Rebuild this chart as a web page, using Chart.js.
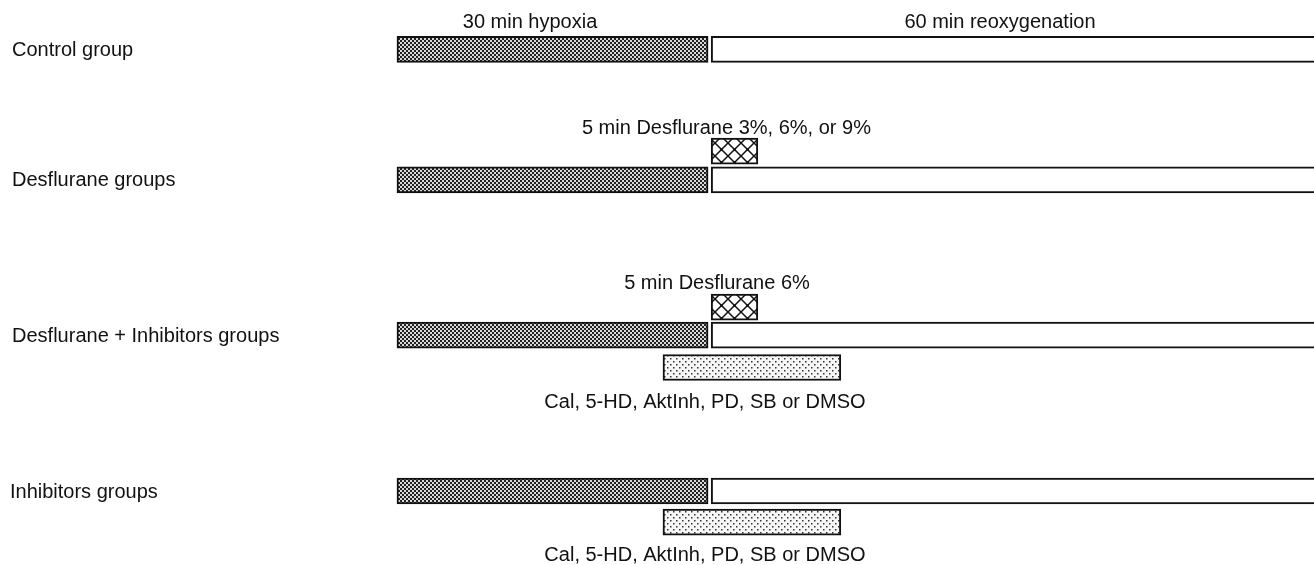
<!DOCTYPE html>
<html>
<head>
<meta charset="utf-8">
<script src="https://cdn.jsdelivr.net/npm/chart.js@4/dist/chart.umd.min.js"></script>
<style>
  html, body { margin: 0; padding: 0; background: #fff; }
  #wrap { width: 1314px; height: 565px; position: relative; }
</style>
</head>
<body>
<div id="wrap"><canvas id="protocol"></canvas></div>
<script>
// time in minutes, lanes run top to bottom
const groupNames = ['Control group', 'Desflurane groups', 'Desflurane + Inhibitors groups', 'Inhibitors groups']
const groupLane = [1.75, 6.37, 11.86, 17.38]
const groupLabelX = [-37.12, -37.12, -37.12, -37.32]

const hypoxia = [0, 30]
const reoxygenation = [30.3, 90]
const desflurane = [30.3, 34.8]
const inhibitors = [25.65, 42.8]

const desfluraneLane = [5.35, 10.87]
const inhibitorLane = [13.01, 18.48]

const noteText = [
  '30 min hypoxia',
  '60 min reoxygenation',
  '5 min Desflurane 3%, 6%, or 9%',
  '5 min Desflurane 6%',
  'Cal, 5-HD, AktInh, PD, SB or DMSO',
  'Cal, 5-HD, AktInh, PD, SB or DMSO'
]
const noteX = [12.83, 58.15, 31.77, 30.86, 29.7, 29.7]
const noteLane = [0.80, 0.80, 4.55, 10.05, 14.25, 19.66]

const FONT = '20px "Liberation Sans", Arial, Helvetica, sans-serif'

function makePattern(size, draw) {
  const c = document.createElement('canvas')
  c.width = size
  c.height = size
  const g = c.getContext('2d')
  draw(g, size)
  return g.createPattern(c, 'repeat')
}

// fine dark checkerboard
const hypoxiaFill = makePattern(4, (g) => {
  g.fillStyle = '#d8d8d8'
  g.fillRect(0, 0, 4, 4)
  g.fillStyle = '#222'
  g.fillRect(0, 0, 2, 2)
  g.fillRect(2, 2, 2, 2)
})

// diagonal cross hatch
const desfluraneFill = makePattern(13, (g, s) => {
  g.fillStyle = '#fff'
  g.fillRect(0, 0, s, s)
  g.strokeStyle = '#111'
  g.lineWidth = 1.5
  g.beginPath()
  g.moveTo(0, 0); g.lineTo(s, s)
  g.moveTo(s, 0); g.lineTo(0, s)
  g.stroke()
  g.fillStyle = '#111'
  g.fillRect(s / 2 - 1.2, s / 2 - 1.2, 2.4, 2.4)
})

// sparse staggered dots
const inhibitorFill = makePattern(6, (g) => {
  g.fillStyle = '#f7f7f7'
  g.fillRect(0, 0, 6, 6)
  g.fillStyle = '#333'
  g.fillRect(1, 1, 1.5, 1.5)
  g.fillRect(4, 4, 1.5, 1.5)
})

const barStyle = {
  borderColor: '#111',
  borderWidth: 2,
  borderSkipped: false,
  barThickness: 26,
  maxBarThickness: 26,
  grouped: false
}

const textPlugin = {
  id: 'protocolText',
  afterDatasetsDraw(chart) {
    const { ctx, scales: { x, y } } = chart
    ctx.save()
    ctx.font = FONT
    ctx.fillStyle = '#111'
    ctx.textBaseline = 'middle'

    ctx.textAlign = 'left'
    groupNames.forEach((name, i) => {
      ctx.fillText(name, x.getPixelForValue(groupLabelX[i]), y.getPixelForValue(groupLane[i]) + 1)
    })

    ctx.textAlign = 'center'
    noteText.forEach((t, i) => {
      ctx.fillText(t, x.getPixelForValue(noteX[i]), y.getPixelForValue(noteLane[i]))
    })
    ctx.restore()
  }
}

new Chart(document.getElementById('protocol'), {
  type: 'bar',
  data: {
    datasets: [{
      label: 'Hypoxia',
      data: groupLane.map(l => ({ x: hypoxia, y: l })),
      backgroundColor: hypoxiaFill,
      ...barStyle
    }, {
      label: 'Reoxygenation',
      data: groupLane.map(l => ({ x: reoxygenation, y: l })),
      backgroundColor: '#fff',
      ...barStyle
    }, {
      label: 'Desflurane',
      data: desfluraneLane.map(l => ({ x: desflurane, y: l })),
      backgroundColor: desfluraneFill,
      ...barStyle
    }, {
      label: 'Inhibitors',
      data: inhibitorLane.map(l => ({ x: inhibitors, y: l })),
      backgroundColor: inhibitorFill,
      ...barStyle
    }]
  },
  options: {
    indexAxis: 'y',
    responsive: true,
    maintainAspectRatio: false,
    animation: false,
    layout: { padding: 0 },
    plugins: {
      legend: { display: false },
      tooltip: { enabled: false }
    },
    scales: {
      x: { type: 'linear', display: false, offset: false, min: -38.28, max: 88.43 },
      y: { type: 'linear', display: false, offset: false, reverse: true, min: 0, max: 20 }
    }
  },
  plugins: [textPlugin]
})
</script>
</body>
</html>
